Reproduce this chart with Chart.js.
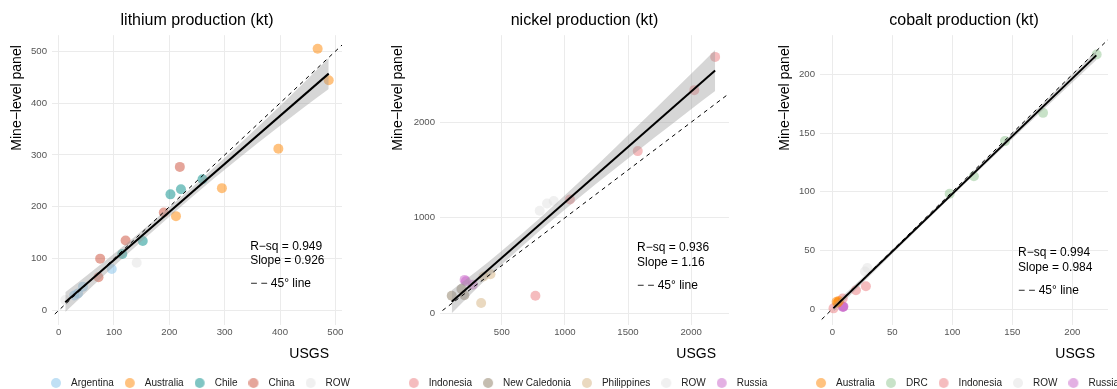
<!DOCTYPE html>
<html>
<head>
<meta charset="utf-8">
<title>Mine-level panel vs USGS</title>
<script src="https://cdn.jsdelivr.net/npm/chart.js@4/dist/chart.umd.min.js"></script>
<style>
  html, body { margin: 0; padding: 0; background: #fff; overflow: hidden; }
  .panel { position: absolute; top: 0; height: 398px; }
</style>
</head>
<body>
<div class="panel" style="left:-8px;width:410px"><canvas id="lithium"></canvas></div>
<div class="panel" style="left:380px;width:409px"><canvas id="nickel"></canvas></div>
<div class="panel" style="left:760px;width:408px"><canvas id="cobalt"></canvas></div>

<script>
// ---- lithium (kt) ----
const lithiumCountries = ['Argentina', 'Australia', 'Chile', 'China', 'ROW'];
const lithiumUsgs = [
  [96, 44, 35, 28],
  [468, 488, 397, 295, 212],
  [260, 221, 202, 152, 115],
  [219, 190, 121, 75, 72],
  [141, 12]
];
const lithiumMine = [
  [80, 46, 33, 29],
  [505, 444, 312, 236, 182],
  [253, 234, 224, 134, 109],
  [277, 189, 135, 100, 64],
  [92, 20]
];
const lithiumFit = [0.926, 5];          // slope, intercept
const lithiumRsq = 0.949;
const lithiumBandX  = [12, 60, 120, 200, 280, 360, 440, 488];
const lithiumBandHi = [35, 75, 127, 199, 275, 354, 436, 487];
const lithiumBandLo = [-3, 46, 105, 181, 254, 323, 389, 427];
const lithiumXTicks = [0, 100, 200, 300, 400, 500];
const lithiumYTicks = [0, 100, 200, 300, 400, 500];

// ---- nickel (kt) ----
const nickelCountries = ['Indonesia', 'New Caledonia', 'Philippines', 'ROW', 'Russia'];
const nickelUsgs = [
  [2190, 2025, 1577, 1040, 766],
  [103, 203, 180],
  [336, 410, 355],
  [800, 858, 911],
  [205, 215, 270]
];
const nickelMine = [
  [2684, 2336, 1698, 1192, 184],
  [185, 190, 255],
  [108, 410, 385],
  [1073, 1150, 1175],
  [350, 335, 300]
];
const nickelFit = [1.16, 2];
const nickelRsq = 0.936;
const nickelBandX  = [103, 300, 500, 800, 1100, 1400, 1700, 2000, 2190];
const nickelBandHi = [242, 440, 654, 996, 1358, 1736, 2119, 2507, 2757];
const nickelBandLo = [2, 260, 510, 864, 1198, 1516, 1829, 2137, 2327];
const nickelXTicks = [500, 1000, 1500, 2000];
const nickelYTicks = [0, 1000, 2000];

// ---- cobalt (kt) ----
const cobaltCountries = ['Australia', 'DRC', 'Indonesia', 'ROW', 'Russia'];
const cobaltUsgs = [
  [3.6, 4.5, 5.5],
  [220.3, 175.6, 143.9, 118, 97.8],
  [28, 19.7, 8.7, 1],
  [29.2, 27.3],
  [9, 9.3, 8.8]
];
const cobaltMine = [
  [6.2, 5.5, 6.8],
  [217, 167.3, 143.2, 113.3, 98.3],
  [19.5, 16, 9, 0.6],
  [35, 32],
  [2, 2.2, 1.8]
];
const cobaltFit = [0.984, -0.2];
const cobaltRsq = 0.994;
const cobaltBandX  = [1, 50, 110, 160, 220];
const cobaltBandHi = [3.8, 50.8, 109.8, 159.7, 220.3];
const cobaltBandLo = [-2.2, 47.2, 106.4, 154.7, 212.3];
const cobaltXTicks = [0, 50, 100, 150, 200];
const cobaltYTicks = [0, 50, 100, 150, 200];

const countryColours = {
  'Argentina':     'rgba(129, 193, 235, 0.5)',
  'Australia':     'rgba(255, 133, 0, 0.5)',
  'Chile':         'rgba(0, 139, 135, 0.5)',
  'China':         'rgba(203, 75, 53, 0.5)',
  'ROW':           'rgba(225, 225, 225, 0.5)',
  'Indonesia':     'rgba(235, 121, 125, 0.5)',
  'New Caledonia': 'rgba(139, 123, 97, 0.5)',
  'Philippines':   'rgba(213, 179, 129, 0.5)',
  'Russia':        'rgba(199, 97, 199, 0.5)',
  'DRC':           'rgba(145, 197, 145, 0.5)'
};

const FONT = '"Liberation Sans", Arial, Helvetica, sans-serif';
Chart.defaults.font.family = FONT;
Chart.defaults.color = '#222';
Chart.defaults.animation = false;
Chart.defaults.plugins.tooltip.enabled = false;

// legend key: a dot sitting left of centre, so the label gets a wider gap
function legendDot(colour) {
  const c = document.createElement('canvas');
  c.width = 20;
  c.height = 10;
  const g = c.getContext('2d');
  g.fillStyle = colour;
  g.beginPath();
  g.arc(5, 5, 5, 0, Math.PI * 2);
  g.fill();
  return c;
}

// axis titles and the fit annotation, drawn on top of the panel
const panelText = {
  id: 'panelText',
  afterDraw(chart, args, opts) {
    const { ctx, chartArea: a, scales: { x, y } } = chart;
    ctx.save();
    ctx.fillStyle = '#000';
    ctx.textBaseline = 'middle';

    ctx.font = '14px ' + FONT;
    ctx.textAlign = 'right';
    ctx.fillText('USGS', a.right - 13, a.bottom + 29);

    ctx.save();
    ctx.translate(a.left - opts.yTitleGap, a.top + 10);
    ctx.rotate(-Math.PI / 2);
    ctx.fillText('Mine\u2212level panel', 0, 0);
    ctx.restore();

    ctx.font = '12px ' + FONT;
    ctx.textAlign = 'left';
    const lines = ['R\u2212sq = ' + opts.rsq, 'Slope = ' + opts.slope, '\u2212 \u2212 45\u00b0 line'];
    const px = x.getPixelForValue(opts.noteX);
    lines.forEach((t, i) => ctx.fillText(t, px, y.getPixelForValue(opts.noteY[i])));
    ctx.restore();
  }
};

function points(xs, ys) {
  return xs.map((v, i) => ({ x: v, y: ys[i] }));
}

function makePanel(id, p) {
  const datasets = p.countries.map((name, i) => ({
    type: 'scatter',
    label: name,
    data: points(p.usgs[i], p.mine[i]),
    backgroundColor: countryColours[name],
    borderWidth: 0,
    pointRadius: 5,
    pointHoverRadius: 5,
    order: 4
  }));

  // confidence band of the linear fit
  datasets.push({
    type: 'line', label: '',
    data: points(p.bandX, p.bandHi),
    borderWidth: 0, pointRadius: 0,
    cubicInterpolationMode: 'monotone',
    backgroundColor: 'rgba(153, 153, 153, 0.4)',
    fill: '+1', order: 3
  }, {
    type: 'line', label: '',
    data: points(p.bandX, p.bandLo),
    borderWidth: 0, pointRadius: 0,
    cubicInterpolationMode: 'monotone',
    fill: false, order: 3
  });

  const [slope, icpt] = p.fit;
  const x0 = p.bandX[0], x1 = p.bandX[p.bandX.length - 1];
  datasets.push({
    type: 'line', label: '',
    data: [{ x: x0, y: icpt + slope * x0 }, { x: x1, y: icpt + slope * x1 }],
    borderColor: '#000', borderWidth: 2, pointRadius: 0, fill: false, order: 2
  });

  // 45 degree reference line across the whole panel
  const lo = Math.min(p.xRange[0], p.yRange[0]), hi = Math.max(p.xRange[1], p.yRange[1]);
  datasets.push({
    type: 'line', label: '',
    data: [{ x: lo, y: lo }, { x: hi, y: hi }],
    borderColor: '#000', borderWidth: 1, borderDash: [4, 4],
    pointRadius: 0, fill: false, order: 1
  });

  const tickFont = { size: 9.6 };
  new Chart(document.getElementById(id), {
    type: 'scatter',
    data: { datasets },
    options: {
      responsive: true,
      maintainAspectRatio: false,
      events: [],
      // left padding nudges the legend row right; the y axis gives it back
      layout: { padding: { left: 12 } },
      scales: {
        x: {
          type: 'linear', min: p.xRange[0], max: p.xRange[1],
          grid: { color: '#ebebeb', lineWidth: 1, drawTicks: false },
          border: { display: false },
          ticks: { padding: 2, color: '#555', font: tickFont, callback: v => String(v) },
          afterBuildTicks: s => { s.ticks = p.xTicks.map(v => ({ value: v })); },
          afterFit: s => { s.height = 37; }
        },
        y: {
          type: 'linear', position: 'left', min: p.yRange[0], max: p.yRange[1],
          grid: { color: '#ebebeb', lineWidth: 1, drawTicks: false },
          border: { display: false },
          ticks: { padding: 5, color: '#555', font: tickFont, callback: v => String(v) },
          afterBuildTicks: s => { s.ticks = p.yTicks.map(v => ({ value: v })); },
          afterFit: s => { s.width = 48; }
        },
        // empty right-hand axis keeps the legend centred under the panel
        y2: {
          type: 'linear', position: 'right', display: true,
          grid: { display: false }, border: { display: false },
          ticks: { display: false },
          afterFit: s => { s.width = 60; }
        }
      },
      plugins: {
        title: {
          display: true, text: p.title, fullSize: false,
          color: '#000', font: { size: 16, weight: 'normal' },
          padding: { top: 11, bottom: 5 }
        },
        legend: {
          position: 'bottom', align: 'center',
          labels: {
            usePointStyle: true,
            boxWidth: 10, boxHeight: 7, padding: 16,
            color: '#222', font: { size: 10 },
            generateLabels: chart => Chart.defaults.plugins.legend.labels
              .generateLabels(chart)
              .filter(item => item.text !== '')
              .map(item => Object.assign(item, { pointStyle: legendDot(item.fillStyle) }))
          }
        },
        panelText: {
          yTitleGap: p.yTitleGap, rsq: p.rsq, slope: slope,
          noteX: p.noteX, noteY: p.noteY
        }
      }
    },
    plugins: [panelText]
  });
}

makePanel('lithium', {
  title: 'lithium production (kt)',
  countries: lithiumCountries, usgs: lithiumUsgs, mine: lithiumMine,
  fit: lithiumFit, rsq: lithiumRsq,
  bandX: lithiumBandX, bandHi: lithiumBandHi, bandLo: lithiumBandLo,
  xTicks: lithiumXTicks, yTicks: lithiumYTicks,
  xRange: [-12, 512], yRange: [-28, 531],
  yTitleGap: 35, noteX: 346, noteY: [124, 96, 51]
});

makePanel('nickel', {
  title: 'nickel production (kt)',
  countries: nickelCountries, usgs: nickelUsgs, mine: nickelMine,
  fit: nickelFit, rsq: nickelRsq,
  bandX: nickelBandX, bandHi: nickelBandHi, bandLo: nickelBandLo,
  xTicks: nickelXTicks, yTicks: nickelYTicks,
  xRange: [10, 2300], yRange: [-122, 2911],
  yTitleGap: 42, noteX: 1571, noteY: [683, 526, 286]
});

makePanel('cobalt', {
  title: 'cobalt production (kt)',
  countries: cobaltCountries, usgs: cobaltUsgs, mine: cobaltMine,
  fit: cobaltFit, rsq: cobaltRsq,
  bandX: cobaltBandX, bandHi: cobaltBandHi, bandLo: cobaltBandLo,
  xTicks: cobaltXTicks, yTicks: cobaltYTicks,
  xRange: [-10.25, 229.75], yRange: [-13.6, 233.5],
  yTitleGap: 35, noteX: 154.75, noteY: [48, 35.2, 15.3]
});
</script>
</body>
</html>
